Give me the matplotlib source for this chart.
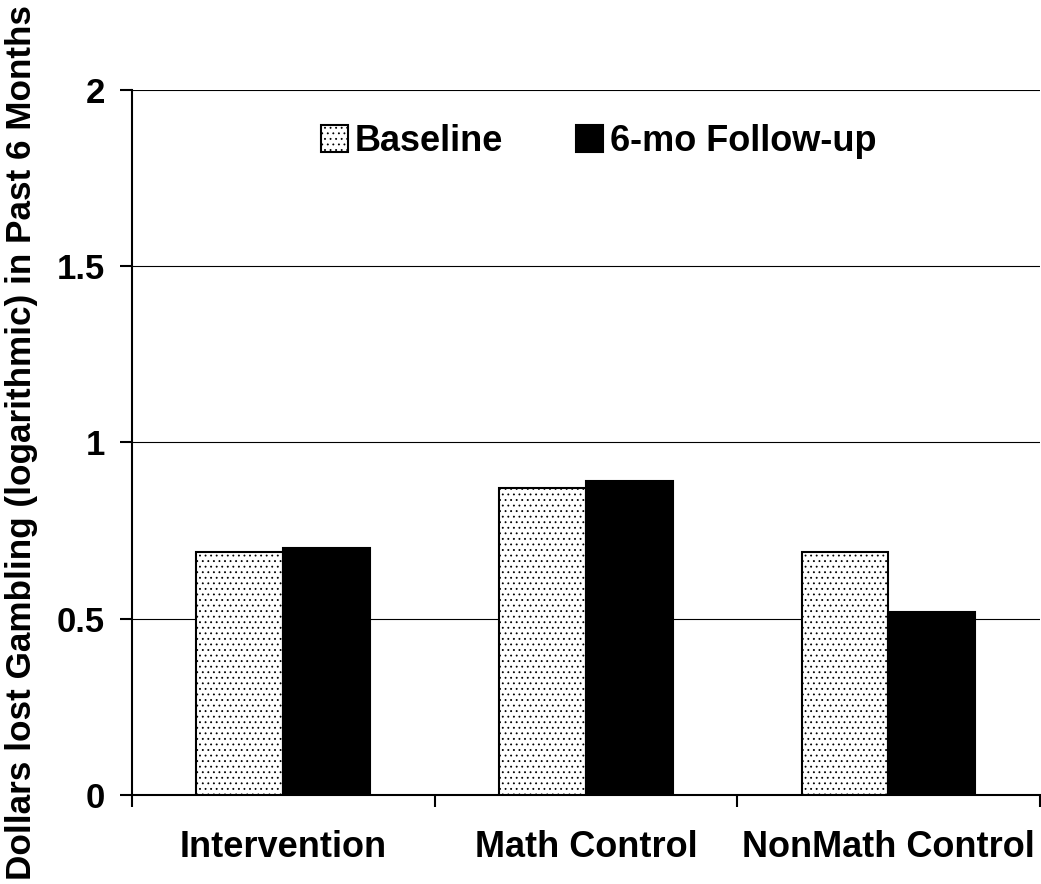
import matplotlib
matplotlib.use("Agg")
import matplotlib.pyplot as plt
import numpy as np

categories = ["Intervention", "Math Control", "NonMath Control"]
baseline = [0.69, 0.87, 0.69]
followup = [0.70, 0.89, 0.52]
series_names = ["Baseline", "6-mo Follow-up"]
yticks = [0, 0.5, 1, 1.5, 2]
ytick_labels = ["0", "0.5", "1", "1.5", "2"]

plt.rcParams['font.family'] = ['Liberation Sans', 'DejaVu Sans']
plt.rcParams['font.weight'] = 'bold'
plt.rcParams['hatch.color'] = '#707070'
plt.rcParams['hatch.linewidth'] = 0.6

fig = plt.figure(figsize=(10.41, 8.84), dpi=100)
ax = fig.add_axes([0.1268, 0.1007, 0.872, 0.7975])

x = np.arange(len(categories))
w = 0.287
ax.bar(x - w/2, baseline, w, facecolor='white', edgecolor='black', linewidth=1.5,
       hatch='...', label=series_names[0], zorder=3)
ax.bar(x + w/2, followup, w, facecolor='black', edgecolor='black', linewidth=1.5,
       label=series_names[1], zorder=3)

ax.set_xlim(-0.5, len(categories) - 0.5)
ax.set_ylim(0, 2)
ax.set_yticks(yticks)
ax.set_yticklabels(ytick_labels, fontsize=25, fontweight='bold')
ax.yaxis.grid(True, color='black', linewidth=0.8, zorder=0)
ax.set_axisbelow(True)

ax.set_xticks(np.arange(len(categories) + 1) - 0.5)
ax.set_xticklabels([])
ax.set_xticks(x, minor=True)
ax.set_xticklabels(categories, minor=True, fontsize=26, fontweight='bold')
ax.tick_params(axis='x', which='minor', length=0, pad=25)
ax.tick_params(axis='x', which='major', length=8.6, width=1.5, direction='out')
ax.tick_params(axis='y', length=8.6, width=1.5, direction='out', pad=11)

for s in ['top', 'right']:
    ax.spines[s].set_visible(False)
for s in ['left', 'bottom']:
    ax.spines[s].set_linewidth(1.5)

ax.set_ylabel("Dollars lost Gambling (logarithmic) in Past 6 Months",
              fontsize=25.3, fontweight='bold')
ax.yaxis.set_label_coords(-0.104, 0.5)

leg = ax.legend(loc='upper center', bbox_to_anchor=(0.514, 0.998), ncol=2, frameon=False,
                handlelength=0.75, handleheight=0.75, handletextpad=0.2,
                columnspacing=2.0, prop={'weight': 'bold', 'size': 26})

fig.savefig("out.png", dpi=100)
